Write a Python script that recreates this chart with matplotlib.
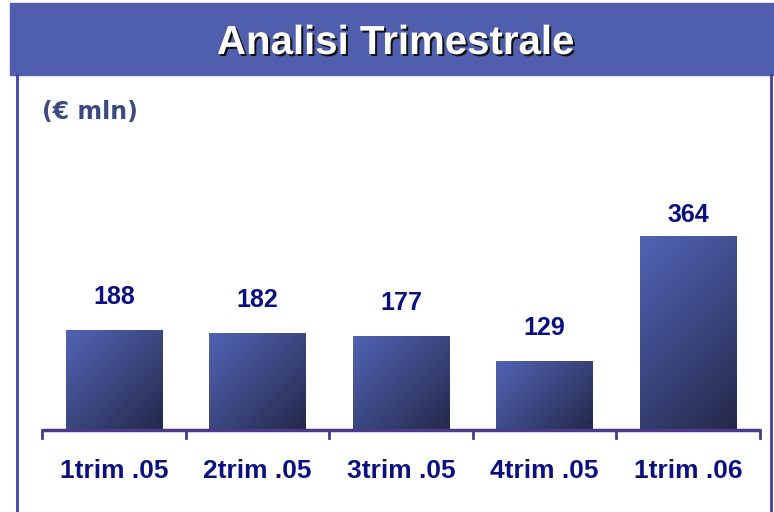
import matplotlib
matplotlib.use('Agg')
from matplotlib import pyplot as plt, patches
from matplotlib.textpath import TextPath
from matplotlib.font_manager import FontProperties
from matplotlib.transforms import Affine2D
import numpy as np

# Data
categories = ['1trim .05', '2trim .05', '3trim .05', '4trim .05', '1trim .06']
values = [188, 182, 177, 129, 364]
title = 'Analisi Trimestrale'
unit_label = '(€ mln)'

W, H = 774, 512
fig = plt.figure(figsize=(W / 100, H / 100), dpi=100)

def fx(px):
    return px / W

def fy(py):
    return 1 - py / H

# Title banner
banner = patches.Rectangle((fx(10), fy(75)), fx(764), 72 / H, transform=fig.transFigure,
                           color='#4f5fae', zorder=0)
fig.patches.append(banner)

# Title drawn as a slightly condensed text path (pixel coords, y down)
tp = TextPath((0, 0), title, size=40, prop=FontProperties(family='Liberation Sans', weight='bold'))
ext = tp.get_extents()
sx = 355 / ext.width
sy = 29 / 28.6  # cap height ~29 px
tx = Affine2D().translate(-ext.x0, 0).scale(sx, -sy)
for dx, dy, col in [(2, 2, '#111111'), (0, 0, 'white')]:
    p = tx.transform_path(tp)
    t = Affine2D().translate(218 + dx, 54 + dy) + Affine2D().scale(1 / W, -1 / H).translate(0, 1) + fig.transFigure
    fig.patches.append(patches.PathPatch(p, facecolor=col, edgecolor='none', transform=t, zorder=2))

# Side border lines
for x in (17, 771):
    fig.add_artist(plt.Line2D([fx(x), fx(x)], [fy(75), 0], transform=fig.transFigure,
                              color='#3f3fa5', lw=2))

fig.text(fx(42), fy(112), unit_label, color='#3b4a80', fontsize=17, fontweight='bold',
         family=['DejaVu Sans'], ha='left', va='center')

# Axes
ax = fig.add_axes([fx(42), fy(430), fx(760 - 42), (430 - 180) / H])
ax.set_xlim(-0.5, len(categories) - 0.5)
ax.set_ylim(0, 470)
ax.axis('off')

x = np.arange(len(categories))
bars = ax.bar(x, values, width=0.67, color='none', edgecolor='none')

# Diagonal gradient fill for each bar
gx, gy = np.meshgrid(np.linspace(0, 1, 100), np.linspace(0, 1, 100))
light = np.array([0x50, 0x62, 0xb2]) / 255
dark = np.array([0x24, 0x28, 0x48]) / 255
for b in bars:
    bx, by = b.get_x(), b.get_y()
    bw, bh = b.get_width(), b.get_height()
    wpx = bw * 143.6
    hpx = bh * 0.532
    t = (gx * wpx + (1 - gy) * hpx) / (wpx + hpx)  # gy=0 is bottom
    t = np.clip(t, 0, 1) ** 1.1
    img = light[None, None, :] * (1 - t[..., None]) + dark[None, None, :] * t[..., None]
    im = ax.imshow(img, extent=(bx, bx + bw, by, by + bh), origin='lower',
                   aspect='auto', zorder=2)
    im.set_clip_path(b)

for xi, v in zip(x, values):
    ax.text(xi, min(v + 62, 405), str(v), ha='center', va='center', color='#0a1080',
            fontsize=18, fontweight='bold', family=['Liberation Sans', 'DejaVu Sans'])

# Baseline with hanging ticks
ax.plot([-0.5, len(categories) - 0.5], [0, 0], color='#4b3a8a', lw=2.5,
        clip_on=False, zorder=3, solid_capstyle='butt')
for i in range(len(categories) + 1):
    ax.plot([i - 0.5, i - 0.5], [0, -15], color='#4b3a8a', lw=2, clip_on=False, zorder=3)

for xi, c in zip(x, categories):
    ax.text(xi, -77, c, ha='center', va='center', color='#0a1080', fontsize=19,
            fontweight='bold', family=['Liberation Sans', 'DejaVu Sans'])

fig.savefig('out.png', dpi=100)
